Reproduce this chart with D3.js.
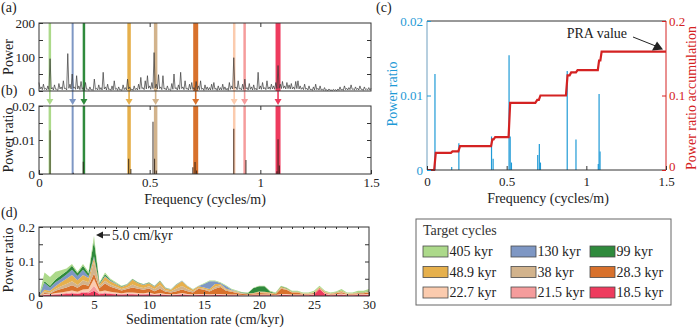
<!DOCTYPE html>
<html>
<head>
<meta charset="utf-8">
<script src="https://cdn.jsdelivr.net/npm/d3@7"></script>
<style>
  body { margin: 0; background: #fff; }
  svg, svg text { font-family: "Liberation Serif", "DejaVu Serif", "Times New Roman", serif; }
</style>
</head>
<body>
<svg id="fig" width="700" height="327"></svg>
<script>
// ---------- target cycles ----------
const cycleNames  = ["405 kyr", "130 kyr", "99 kyr", "48.9 kyr", "38 kyr", "28.3 kyr", "22.7 kyr", "21.5 kyr", "18.5 kyr"];
const cycleColors = ["#acd98a", "#7e97c4", "#2f8a3c", "#e6b04c", "#d2b38c", "#d8712c", "#fbcbae", "#f59c9c", "#ee3b5e"];
// frequencies (cycles/m) of each cycle at 5.0 cm/kyr
const cycleFreqs  = [0.049, 0.152, 0.203, 0.407, 0.527, 0.708, 0.882, 0.929, 1.080];
const bandWidths  = [2.5, 2, 2.5, 3.5, 3.5, 5, 2.5, 2.5, 5];

// ---------- (a) power spectrum, 0..1.5 cycles/m every 0.005 ----------
const spectrumStep = 0.005;
const powerSpectrum = [
  25, 6, 12, 4, 20, 5, 8, 3, 15, 4, 95, 6, 10, 3, 18, 5, 5, 2, 22, 6, 12, 4, 30, 7, 8, 3, 110, 8, 20, 6, 50, 8, 12, 5, 45, 6, 15, 4, 28, 5,
  10, 3, 25, 5, 6, 2, 12, 3, 4, 2, 35, 5, 8, 3, 18, 4, 10, 3, 55, 6, 12, 3, 20, 4, 6, 2, 15, 3, 30, 5, 8, 2, 12, 3, 4, 2, 18, 4, 10, 3,
  35, 6, 12, 3, 6, 2, 15, 4, 8, 3, 20, 5, 40, 7, 10, 4, 30, 6, 45, 8, 15, 5, 25, 7, 113, 9, 20, 6, 48, 7, 12, 4, 45, 6, 8, 3, 15, 4, 5, 2,
  22, 5, 50, 7, 10, 3, 18, 5, 55, 7, 12, 4, 30, 6, 8, 3, 20, 5, 25, 5, 10, 3, 28, 5, 15, 4, 30, 5, 8, 2, 18, 4, 12, 3, 10, 3, 20, 4, 25, 5,
  8, 2, 15, 3, 10, 3, 20, 4, 12, 3, 8, 2, 25, 5, 15, 6, 98, 8, 12, 4, 30, 6, 8, 3, 20, 5, 35, 6, 10, 3, 22, 5, 12, 3, 18, 4, 8, 3, 55, 6,
  15, 5, 25, 6, 10, 4, 30, 6, 12, 5, 20, 6, 15, 5, 25, 7, 75, 8, 20, 7, 28, 8, 15, 6, 25, 7, 18, 6, 22, 6, 12, 5, 28, 7, 30, 6, 15, 5, 10, 4,
  20, 5, 8, 3, 15, 4, 5, 2, 12, 3, 20, 4, 8, 3, 15, 3, 5, 2, 10, 2, 4, 1, 6, 2, 3, 1, 5, 2, 4, 1, 6, 2, 12, 3, 5, 2, 15, 4, 8, 3,
  10, 4, 18, 5, 6, 3, 12, 4, 8, 3, 15, 5, 5, 2, 12, 4, 6, 3, 10, 3, 8
];

// ---------- (b)/(c) power ratio inside the target bands ----------
const ratioFreqs  = [0.050, 0.155, 0.200, 0.405, 0.415, 0.515, 0.522, 0.530, 0.695, 0.705, 0.712, 0.880, 0.935, 1.075, 1.080, 1.086];
const ratioValues = [0.0129, 0.0004, 0.0036, 0.0045, 0.0015, 0.0154, 0.0045, 0.0010, 0.0020, 0.0035, 0.0010, 0.0133, 0.0041, 0.0008, 0.0102, 0.0025];

// ---------- (c) power ratio accumulation ----------
const praFreqs  = [0, 0.045, 0.055, 0.150, 0.160, 0.197, 0.207, 0.402, 0.410, 0.418, 0.428, 0.512, 0.522, 0.680, 0.692, 0.702, 0.712, 0.872, 0.882, 0.895, 0.905, 0.935, 0.945, 1.072, 1.080, 1.088, 1.096, 1.5];
const praValues = [0, 0, 0.023, 0.023, 0.025, 0.025, 0.032, 0.032, 0.041, 0.041, 0.044, 0.044, 0.090, 0.090, 0.094, 0.094, 0.100, 0.100, 0.127, 0.127, 0.131, 0.131, 0.134, 0.134, 0.147, 0.147, 0.159, 0.159];

// ---------- (d) power ratio vs sedimentation rate, 0..30 cm/kyr every 0.5 ----------
const sedRates = d3.range(0, 30.001, 0.5);
const ratio405 = [0, .025, .025, .022, .015, .008, .005, .004, .005, .005, .015, .002, .005, .003, .003, .002, .001, .001, .001, .001, .001,
  .001, .001, .001, .001, .001, .001, .001, .001, .001, .002, .002, .002, .002, .002, .002, .002, .001, .001, .001, .002,
  .002, .002, .002, .002, .002, .002, .002, .002, .002, .004, .004, .003, .002, .002, .004, .002, .002, .004, .004, .005];
const ratio130 = [0, .020, .010, .012, .010, .012, .015, .012, .015, .005, .005, .002, .002, .002, .001, .001, .001, .001, .001, .001, .001,
  .001, .001, .001, .001, .001, .001, .001, .001, .001, .010, .023, .008, .003, .008, .002, .001, .001, 0, 0, 0,
  0, 0, 0, 0, 0, 0, 0, 0, 0, 0, 0, 0, 0, 0, 0, 0, 0, 0, 0, 0];
const ratio99 = [0, .005, .005, .008, .010, .010, .012, .008, .012, .008, .045, .003, .005, .002, .001, .001, .001, .001, .001, .001, .001,
  .001, .001, .001, 0, .001, 0, 0, 0, 0, 0, 0, 0, 0, 0, 0, 0, .001, .002, .014, .015,
  .016, .003, .001, .001, .001, .001, .001, 0, 0, 0, 0, 0, 0, .001, .001, 0, 0, .001, .001, .001];
const ratio48_9 = [0, .005, .005, .008, .012, .015, .018, .014, .015, .012, .010, .005, .012, .010, .008, .006, .007, .014, .010, .009, .009,
  .007, .011, .005, .004, .010, .014, .008, .004, .004, .004, .004, .008, .004, .003, .002, .002, .001, .001, .001, .002,
  .002, .002, .001, .003, .002, .001, .001, .001, .001, .001, .001, .001, .001, .001, .002, .001, .001, .001, .001, .002];
const ratio38 = [0, .004, .003, .005, .008, .010, .012, .008, .012, .010, .035, .005, .008, .006, .005, .004, .005, .008, .006, .005, .006,
  .006, .010, .005, .004, .008, .010, .006, .004, .003, .003, .003, .006, .005, .003, .003, .002, .001, .001, .001, .002,
  .002, .001, .001, .003, .002, .001, .001, .001, .001, .001, .001, .001, .001, .001, .002, .001, .001, .001, .001, .002];
const ratio28_3 = [0, .003, .002, .006, .010, .012, .015, .012, .015, .010, .015, .010, .020, .015, .012, .008, .010, .015, .012, .010, .012,
  .008, .012, .006, .005, .008, .010, .008, .005, .015, .012, .008, .015, .020, .010, .008, .005, .003, .002, .003, .005,
  .004, .003, .002, .015, .012, .006, .006, .002, .002, .003, .002, .002, .002, .003, .004, .002, .002, .003, .003, .004];
const ratio22_7 = [0, .002, .001, .003, .003, .004, .005, .004, .006, .008, .020, .005, .005, .004, .003, .002, .003, .003, .003, .002, .003,
  .002, .003, .002, .002, .002, .003, .002, .002, .002, .002, .002, .002, .002, .002, .001, .001, .001, .001, .001, .001,
  .001, .001, .001, .002, .002, .001, .001, .001, .001, .001, .001, .001, .001, .001, .002, .001, .001, .001, .001, .002];
const ratio21_5 = [0, .001, .001, .002, .002, .003, .003, .002, .003, .004, .015, .003, .003, .002, .002, .002, .002, .002, .002, .002, .002,
  .001, .002, .001, .001, .001, .002, .001, .001, .001, .001, .001, .001, .001, .001, .001, .001, .001, .001, .001, .001,
  .001, .001, .001, .001, .001, .001, .001, .001, .001, .001, .001, .001, .001, .001, .001, .001, .001, .001, .001, .001];
const ratio18_5 = [0, .003, .003, .004, .005, .006, .008, .006, .010, .008, .015, .005, .008, .006, .005, .004, .005, .005, .004, .004, .005,
  .003, .004, .003, .002, .003, .004, .003, .002, .003, .003, .002, .003, .003, .002, .002, .002, .001, .001, .002, .002,
  .002, .002, .001, .003, .003, .002, .002, .002, .002, .004, .020, .006, .002, .003, .004, .002, .002, .003, .003, .003];

// stacking order, bottom first
const stackSeries = [ratio18_5, ratio21_5, ratio22_7, ratio28_3, ratio38, ratio48_9, ratio130, ratio99, ratio405];
const stackColors = ["#ee3b5e", "#f59c9c", "#fbcbae", "#d8712c", "#d2b38c", "#e6b04c", "#7e97c4", "#2f8a3c", "#acd98a"];

const svg = d3.select("#fig");
const INK = "#333";

function styleAxis(sel, color) {
  sel.select(".domain").remove();
  sel.attr("font-family", null).attr("font-size", null);
  sel.selectAll(".tick line").attr("stroke", color || INK);
  sel.selectAll(".tick text").attr("fill", color || "#222").style("font-size", "13px");
}
function addAxis(gen, tx, ty, color) {
  return svg.append("g").attr("transform", `translate(${tx},${ty})`).call(gen).call(s => styleAxis(s, color));
}
function box(x, y, color) {
  svg.append("rect")
    .attr("x", x.range()[0]).attr("y", y.range()[1])
    .attr("width", x.range()[1] - x.range()[0]).attr("height", y.range()[0] - y.range()[1])
    .attr("fill", "none").attr("stroke", color || INK).attr("stroke-width", 1);
}
function label(txt, x, y, opts = {}) {
  return svg.append("text").attr("x", x).attr("y", y).text(txt)
    .style("font-size", (opts.size || 14) + "px").attr("fill", opts.color || "#222")
    .attr("text-anchor", opts.anchor || "start");
}
function vlabel(txt, x, y, color) {
  svg.append("text").attr("transform", `translate(${x},${y}) rotate(-90)`)
    .attr("text-anchor", "middle").style("font-size", "14px").attr("fill", color || "#222").text(txt);
}
const numFmt = d => d === 0 ? "0" : String(d);

// ================= (a) and (b) =================
const xAB = d3.scaleLinear().domain([0, 1.5]).range([39, 371]);
const yA = d3.scaleLinear().domain([0, 200]).range([91, 23]);
const yB = d3.scaleLinear().domain([0, 0.02]).range([174, 106]);

// target bands across both panels
cycleFreqs.forEach((f, i) => {
  const g = svg.append("g").attr("stroke", cycleColors[i]).attr("fill", cycleColors[i]);
  g.append("line").attr("x1", xAB(f)).attr("x2", xAB(f)).attr("y1", yA(200)).attr("y2", yA(0)).attr("stroke-width", bandWidths[i]);
  g.append("line").attr("x1", xAB(f)).attr("x2", xAB(f)).attr("y1", yB(0.02)).attr("y2", yB(0)).attr("stroke-width", bandWidths[i]);
  // arrow from (a) down to (b)
  const top = yA(0), tip = yB(0.02) - 1;
  g.append("line").attr("x1", xAB(f)).attr("x2", xAB(f)).attr("y1", top).attr("y2", tip - 4).attr("stroke-width", 1.6);
  g.append("path").attr("stroke", "none")
    .attr("d", `M${xAB(f) - 3.5},${tip - 6}L${xAB(f) + 3.5},${tip - 6}L${xAB(f)},${tip}Z`);
});

// spectrum
const spectrumLine = d3.line().x((d, i) => xAB(i * spectrumStep)).y(d => yA(d));
svg.append("path").datum(powerSpectrum).attr("d", spectrumLine)
  .attr("fill", "none").attr("stroke", "#3a3a3a").attr("stroke-width", 0.7);

// power ratio spikes in (b)
svg.append("g").selectAll("line").data(ratioFreqs).join("line")
  .attr("x1", d => xAB(d)).attr("x2", d => xAB(d))
  .attr("y1", yB(0)).attr("y2", (d, i) => yB(ratioValues[i]))
  .attr("stroke", "#2b1d14").attr("stroke-opacity", 0.8).attr("stroke-width", 1.1);

box(xAB, yA);
box(xAB, yB);
addAxis(d3.axisLeft(yA).tickValues([0, 50, 100, 150, 200]).tickSize(-4).tickPadding(4)
  .tickFormat(d => d % 100 === 0 ? d : ""), 39, 0);
addAxis(d3.axisRight(yA).tickValues([50, 100, 150]).tickSize(-4).tickFormat(""), 371, 0);
addAxis(d3.axisTop(xAB).tickValues([0.5, 1]).tickSize(-4).tickFormat(""), 0, 23);
addAxis(d3.axisLeft(yB).tickValues([0, 0.005, 0.01, 0.015, 0.02]).tickSize(-4).tickPadding(4)
  .tickFormat(d => [0, 0.01, 0.02].includes(d) ? numFmt(d) : ""), 39, 0);
addAxis(d3.axisRight(yB).tickValues([0.005, 0.01, 0.015]).tickSize(-4).tickFormat(""), 371, 0);
addAxis(d3.axisTop(xAB).tickValues([0.5, 1]).tickSize(-4).tickFormat(""), 0, 106);
addAxis(d3.axisBottom(xAB).tickValues([0, 0.5, 1, 1.5]).tickSize(-4).tickPadding(4).tickFormat(numFmt), 0, 174);

vlabel("Power", 13, 57);
vlabel("Power ratio", 13, 140);
label("Frequency (cycles/m)", 205, 204, { anchor: "middle" });
label("(a)", 1, 12);
label("(b)", 1, 95);

// ================= (c) =================
const xC = d3.scaleLinear().domain([0, 1.5]).range([427, 666]);
const yC = d3.scaleLinear().domain([0, 0.02]).range([170, 21]);
const yPRA = d3.scaleLinear().domain([0, 0.2]).range([170, 21]);
const blue = "#1f9ad6", red = "#d42222";

svg.append("g").selectAll("line").data(ratioFreqs).join("line")
  .attr("x1", d => xC(d)).attr("x2", d => xC(d))
  .attr("y1", yC(0)).attr("y2", (d, i) => yC(ratioValues[i]))
  .attr("stroke", blue).attr("stroke-width", 1.2);

svg.append("path").datum(praFreqs)
  .attr("d", d3.line().x(d => xC(d)).y((d, i) => yPRA(praValues[i])))
  .attr("fill", "none").attr("stroke", red).attr("stroke-width", 2.2);

svg.append("line").attr("x1", 427).attr("x2", 666).attr("y1", 21).attr("y2", 21).attr("stroke", INK);
svg.append("line").attr("x1", 427).attr("x2", 666).attr("y1", 170).attr("y2", 170).attr("stroke", INK);
svg.append("line").attr("x1", 427).attr("x2", 427).attr("y1", 21).attr("y2", 170).attr("stroke", "#6f9fbf");
svg.append("line").attr("x1", 666).attr("x2", 666).attr("y1", 21).attr("y2", 170).attr("stroke", red);

addAxis(d3.axisLeft(yC).tickValues([0, 0.01, 0.02]).tickSize(-4).tickPadding(4).tickFormat(numFmt), 427, 0, blue);
addAxis(d3.axisRight(yPRA).tickValues([0, 0.1, 0.2]).tickSize(-4).tickPadding(3).tickFormat(numFmt), 666, 0, red)
  .selectAll(".tick text").filter(d => d === 0).attr("dy", "0.05em");
addAxis(d3.axisBottom(xC).tickValues([0, 0.5, 1, 1.5]).tickSize(-4).tickPadding(7).tickFormat(numFmt), 0, 170);

vlabel("Power ratio", 397, 94, blue);
vlabel("Power ratio accumulation", 696, 98, red);
label("Frequency (cycles/m)", 548, 203, { anchor: "middle" });
label("(c)", 376, 12);

// PRA value callout
const praEnd = [xC(praFreqs[praFreqs.length - 1]), yPRA(praValues[praValues.length - 1])];
label("PRA value", 627, 38, { anchor: "end" });
svg.append("line").attr("x1", 633).attr("y1", 37).attr("x2", praEnd[0] - 9).attr("y2", praEnd[1] - 5)
  .attr("stroke", "#222").attr("stroke-width", 1);
svg.append("path").attr("fill", "#222")
  .attr("d", `M${praEnd[0] - 3},${praEnd[1] - 2}L${praEnd[0] - 14},${praEnd[1] - 1}L${praEnd[0] - 9},${praEnd[1] - 10}Z`);

// ================= (d) =================
const xD = d3.scaleLinear().domain([0, 30]).range([39, 369]);
const yD = d3.scaleLinear().domain([0, 0.2]).range([296, 227]);

const table = sedRates.map((r, i) => {
  const row = { rate: r };
  stackSeries.forEach((s, k) => { row["s" + k] = s[i]; });
  return row;
});
const keys = stackSeries.map((s, k) => "s" + k);
const layers = d3.stack().keys(keys)(table);
const area = d3.area().x(d => xD(d.data.rate)).y0(d => yD(d[0])).y1(d => yD(d[1]));

svg.append("g").selectAll("path").data(layers).join("path")
  .attr("d", area).attr("fill", (d, i) => stackColors[i]).attr("stroke", "none");

box(xD, yD);
addAxis(d3.axisLeft(yD).tickValues([0, 0.05, 0.1, 0.15, 0.2]).tickSize(-4).tickPadding(4)
  .tickFormat(d => [0, 0.1, 0.2].includes(d) ? numFmt(d) : ""), 39, 0);
addAxis(d3.axisRight(yD).tickValues([0.05, 0.1, 0.15]).tickSize(-4).tickFormat(""), 369, 0);
addAxis(d3.axisBottom(xD).tickValues(d3.range(0, 31, 5)).tickSize(-4).tickPadding(4).tickFormat(numFmt), 0, 296);
addAxis(d3.axisBottom(xD).tickValues(d3.range(1, 30, 1).filter(v => v % 5)).tickSize(-2).tickFormat(""), 0, 296);
addAxis(d3.axisTop(xD).tickValues(d3.range(1, 30, 1)).tickSize(-2).tickFormat(""), 0, 227);

vlabel("Power ratio", 13, 260);
label("Sedimentation rate (cm/kyr)", 205, 324, { anchor: "middle" });
label("(d)", 1, 217);

// 5.0 cm/kyr callout
const peakX = xD(5.0);
svg.append("line").attr("x1", peakX + 8).attr("x2", peakX + 16).attr("y1", 235).attr("y2", 235)
  .attr("stroke", "#222").attr("stroke-width", 1.2);
svg.append("path").attr("fill", "#222")
  .attr("d", `M${peakX + 2},235L${peakX + 9},231.5L${peakX + 9},238.5Z`);
label("5.0 cm/kyr", peakX + 18, 240);

// ================= legend =================
const lg = svg.append("g");
lg.append("rect").attr("x", 416).attr("y", 219).attr("width", 255).attr("height", 86)
  .attr("fill", "#fff").attr("stroke", "#666");
lg.append("text").attr("x", 423).attr("y", 235).style("font-size", "14px").attr("fill", "#333").text("Target cycles");
const colX = [423, 511, 590], rowY = [246, 266.5, 287];
cycleNames.forEach((name, i) => {
  const x = colX[i % 3], y = rowY[Math.floor(i / 3)];
  lg.append("rect").attr("x", x).attr("y", y).attr("width", 25).attr("height", 11)
    .attr("fill", cycleColors[i]).attr("stroke", "#4a4a4a").attr("stroke-width", 0.8);
  lg.append("text").attr("x", x + 26.5).attr("y", y + 10).style("font-size", "14px").attr("fill", "#222").text(name);
});
</script>
</body>
</html>
